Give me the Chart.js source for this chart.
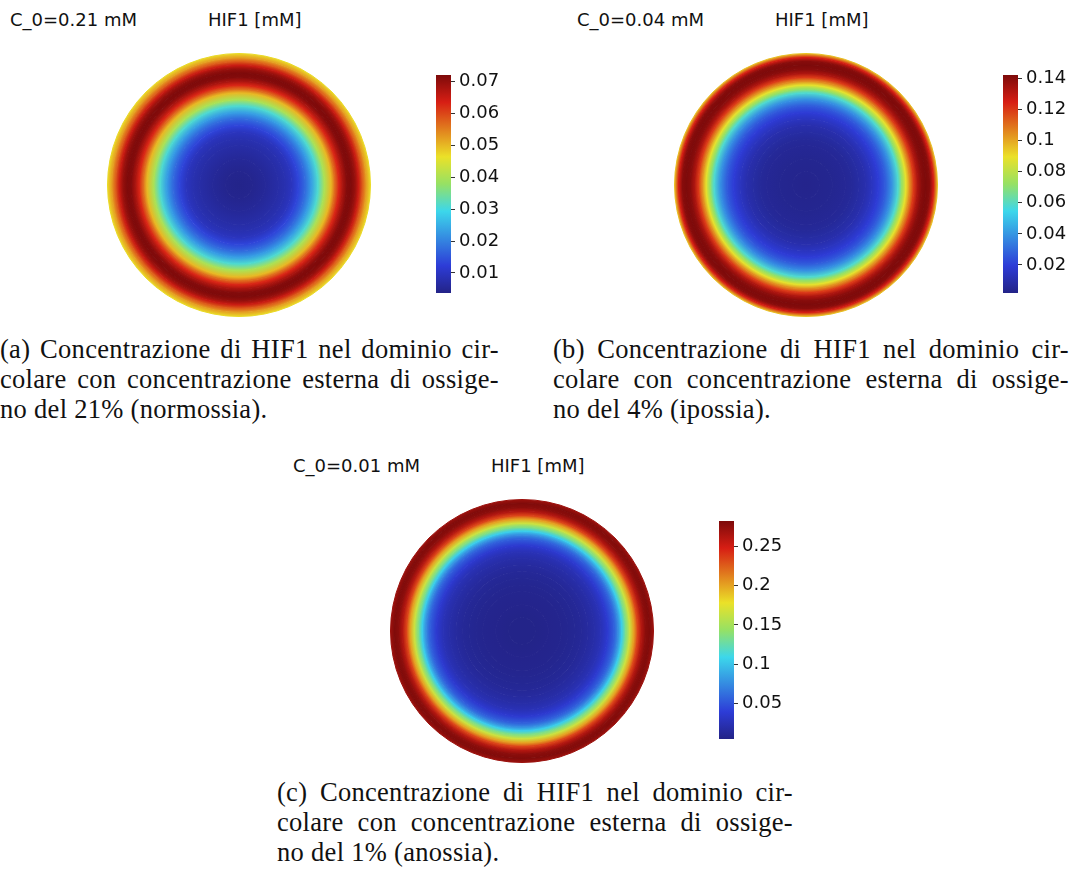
<!DOCTYPE html>
<html>
<head>
<meta charset="utf-8">
<script src="https://cdn.jsdelivr.net/npm/chart.js@4.4.0/dist/chart.umd.min.js"></script>
<style>
  html, body { margin: 0; padding: 0; background: #fff; }
  body { width: 1075px; height: 884px; position: relative; overflow: hidden; }
  canvas { position: absolute; }
  .hdr { position: absolute; font-family: "DejaVu Sans"; font-size: 18px; line-height: 18px; color: #111; white-space: nowrap; }
  .cap { position: absolute; font-family: "Liberation Serif"; font-size: 26.5px; line-height: 30px; letter-spacing: 0.3px; color: #111; }
  .cap .j { text-align: justify; text-align-last: justify; }
</style>
</head>
<body>
<script>
// radial positions (fraction of disc radius) where the profile was read
const radii = [0, 0.1, 0.2, 0.3, 0.35, 0.4, 0.45, 0.5, 0.55, 0.6, 0.65, 0.7, 0.73, 0.76, 0.79, 0.82, 0.85, 0.88, 0.91, 0.94, 0.97, 1.0];

// HIF1 [mM] along the radius, one list per panel
const hifA = [0.004, 0.0045, 0.0055, 0.007, 0.008, 0.0095, 0.013, 0.017, 0.023, 0.031, 0.04, 0.05, 0.057, 0.063, 0.068, 0.0715, 0.072, 0.07, 0.065, 0.058, 0.052, 0.047];
const hifB = [0.003, 0.0035, 0.004, 0.005, 0.006, 0.008, 0.01, 0.014, 0.019, 0.026, 0.038, 0.058, 0.072, 0.088, 0.105, 0.12, 0.133, 0.14, 0.142, 0.14, 0.125, 0.095];
const hifC = [0.006, 0.006, 0.007, 0.008, 0.009, 0.01, 0.012, 0.015, 0.019, 0.025, 0.036, 0.055, 0.075, 0.105, 0.135, 0.165, 0.2, 0.235, 0.262, 0.277, 0.281, 0.27];

// colour bar ranges and ticks
const rangeA = [0.0037, 0.0721];
const rangeB = [0.002, 0.142];
const rangeC = [0.005, 0.282];
const ticksA = [0.01, 0.02, 0.03, 0.04, 0.05, 0.06, 0.07];
const ticksB = [0.02, 0.04, 0.06, 0.08, 0.1, 0.12, 0.14];
const ticksC = [0.05, 0.1, 0.15, 0.2, 0.25];

const headers = ['C_0=0.21 mM', 'C_0=0.04 mM', 'C_0=0.01 mM'];
const unitLabel = 'HIF1 [mM]';
const captions = [
  ['(a) Concentrazione di HIF1 nel dominio cir-', 'colare con concentrazione esterna di ossige-', 'no del 21% (normossia).'],
  ['(b) Concentrazione di HIF1 nel dominio cir-', 'colare con concentrazione esterna di ossige-', 'no del 4% (ipossia).'],
  ['(c) Concentrazione di HIF1 nel dominio cir-', 'colare con concentrazione esterna di ossige-', 'no del 1% (anossia).']
];

// rainbow colour map (style)
const cmap = [
  [0.0, [35, 35, 135]],
  [0.125, [45, 60, 215]],
  [0.375, [60, 215, 235]],
  [0.5, [150, 225, 100]],
  [0.625, [235, 225, 40]],
  [0.875, [215, 30, 20]],
  [1.0, [125, 10, 10]]
];
function jet(t) {
  t = Math.max(0, Math.min(1, t));
  for (let i = 1; i < cmap.length; i++) {
    if (t <= cmap[i][0]) {
      const [t0, c0] = cmap[i - 1], [t1, c1] = cmap[i];
      const f = (t - t0) / (t1 - t0);
      const c = c0.map((v, k) => Math.round(v + (c1[k] - v) * f));
      return `rgb(${c[0]},${c[1]},${c[2]})`;
    }
  }
  return 'rgb(125,10,10)';
}

function addCanvas(x, y, w, h) {
  const c = document.createElement('canvas');
  c.width = w; c.height = h;
  c.style.left = x + 'px'; c.style.top = y + 'px';
  document.body.appendChild(c);
  return c;
}
function addText(cls, x, y, txt) {
  const d = document.createElement('div');
  d.className = cls;
  d.style.left = x + 'px'; d.style.top = y + 'px';
  d.textContent = txt;
  document.body.appendChild(d);
  return d;
}

function drawDisc(cx, cy, values, range) {
  const norm = v => (v - range[0]) / (range[1] - range[0]);
  // each ring goes from radii[k] to radii[k+1]; outermost ring first
  const ringFill = k => ctx => {
    const chart = ctx.chart;
    const area = chart.chartArea;
    const ctrl = chart.getDatasetMeta(ctx.datasetIndex).controller;
    if (!area || ctrl.outerRadius === undefined) return jet(norm(values[k]));
    const x = (area.left + area.right) / 2, y = (area.top + area.bottom) / 2;
    const g = chart.ctx.createRadialGradient(x, y, ctrl.innerRadius, x, y, ctrl.outerRadius);
    g.addColorStop(0, jet(norm(values[k])));
    g.addColorStop(1, jet(norm(values[k + 1])));
    return g;
  };
  const datasets = [];
  for (let k = radii.length - 2; k >= 0; k--) {
    datasets.push({
      data: [1],
      weight: radii[k + 1] - radii[k],
      backgroundColor: ringFill(k),
      borderColor: ringFill(k),
      borderWidth: 1
    });
  }
  new Chart(addCanvas(cx - 132, cy - 132, 264, 264), {
    type: 'doughnut',
    data: { labels: [''], datasets: datasets },
    options: {
      responsive: false,
      animation: false,
      events: [],
      cutout: 0,
      layout: { padding: 0 },
      plugins: { legend: { display: false }, tooltip: { enabled: false } }
    }
  });
}

function drawColorbar(cx, cy, range, ticks) {
  new Chart(addCanvas(cx + 190, cy - 125, 110, 250), {
    type: 'bar',
    data: {
      labels: [''],
      datasets: [{
        data: [[range[0], range[1]]],
        backgroundColor: ctx => {
          const area = ctx.chart.chartArea;
          if (!area) return '#888';
          const g = ctx.chart.ctx.createLinearGradient(0, area.bottom, 0, area.top);
          cmap.forEach(s => g.addColorStop(s[0], jet(s[0])));
          return g;
        },
        borderWidth: 0,
        categoryPercentage: 1,
        barPercentage: 1
      }]
    },
    options: {
      responsive: false,
      animation: false,
      events: [],
      layout: { padding: { left: 7, top: 15, bottom: 17, right: 0 } },
      plugins: { legend: { display: false }, tooltip: { enabled: false } },
      scales: {
        x: { display: false },
        y: {
          position: 'right',
          min: range[0],
          max: range[1],
          afterFit: s => { s.width = 88; },
          afterBuildTicks: s => { s.ticks = ticks.map(v => ({ value: v })); },
          border: { display: false },
          grid: { drawOnChartArea: false, tickLength: 4, color: '#333' },
          ticks: {
            padding: 4,
            color: '#111',
            font: { family: 'DejaVu Sans', size: 18 },
            callback: v => String(v)
          }
        }
      }
    }
  });
}

const panels = [
  { cx: 239, cy: 185, values: hifA, range: rangeA, ticks: ticksA, capX: 0, capW: 499, capY: 334 },
  { cx: 806, cy: 185, values: hifB, range: rangeB, ticks: ticksB, capX: 553, capW: 516, capY: 334 },
  { cx: 522, cy: 631, values: hifC, range: rangeC, ticks: ticksC, capX: 277, capW: 516, capY: 777 }
];

panels.forEach((p, i) => {
  drawDisc(p.cx, p.cy, p.values, p.range);
  drawColorbar(p.cx, p.cy, p.range, p.ticks);
  addText('hdr', p.cx - 229, p.cy - 174, headers[i]);
  addText('hdr', p.cx - 31, p.cy - 174, unitLabel);
  const cap = document.createElement('div');
  cap.className = 'cap';
  cap.style.left = p.capX + 'px';
  cap.style.top = p.capY + 'px';
  cap.style.width = p.capW + 'px';
  captions[i].forEach((line, j) => {
    const d = document.createElement('div');
    if (j < 2) d.className = 'j';
    d.textContent = line;
    cap.appendChild(d);
  });
  document.body.appendChild(cap);
});
</script>
</body>
</html>
